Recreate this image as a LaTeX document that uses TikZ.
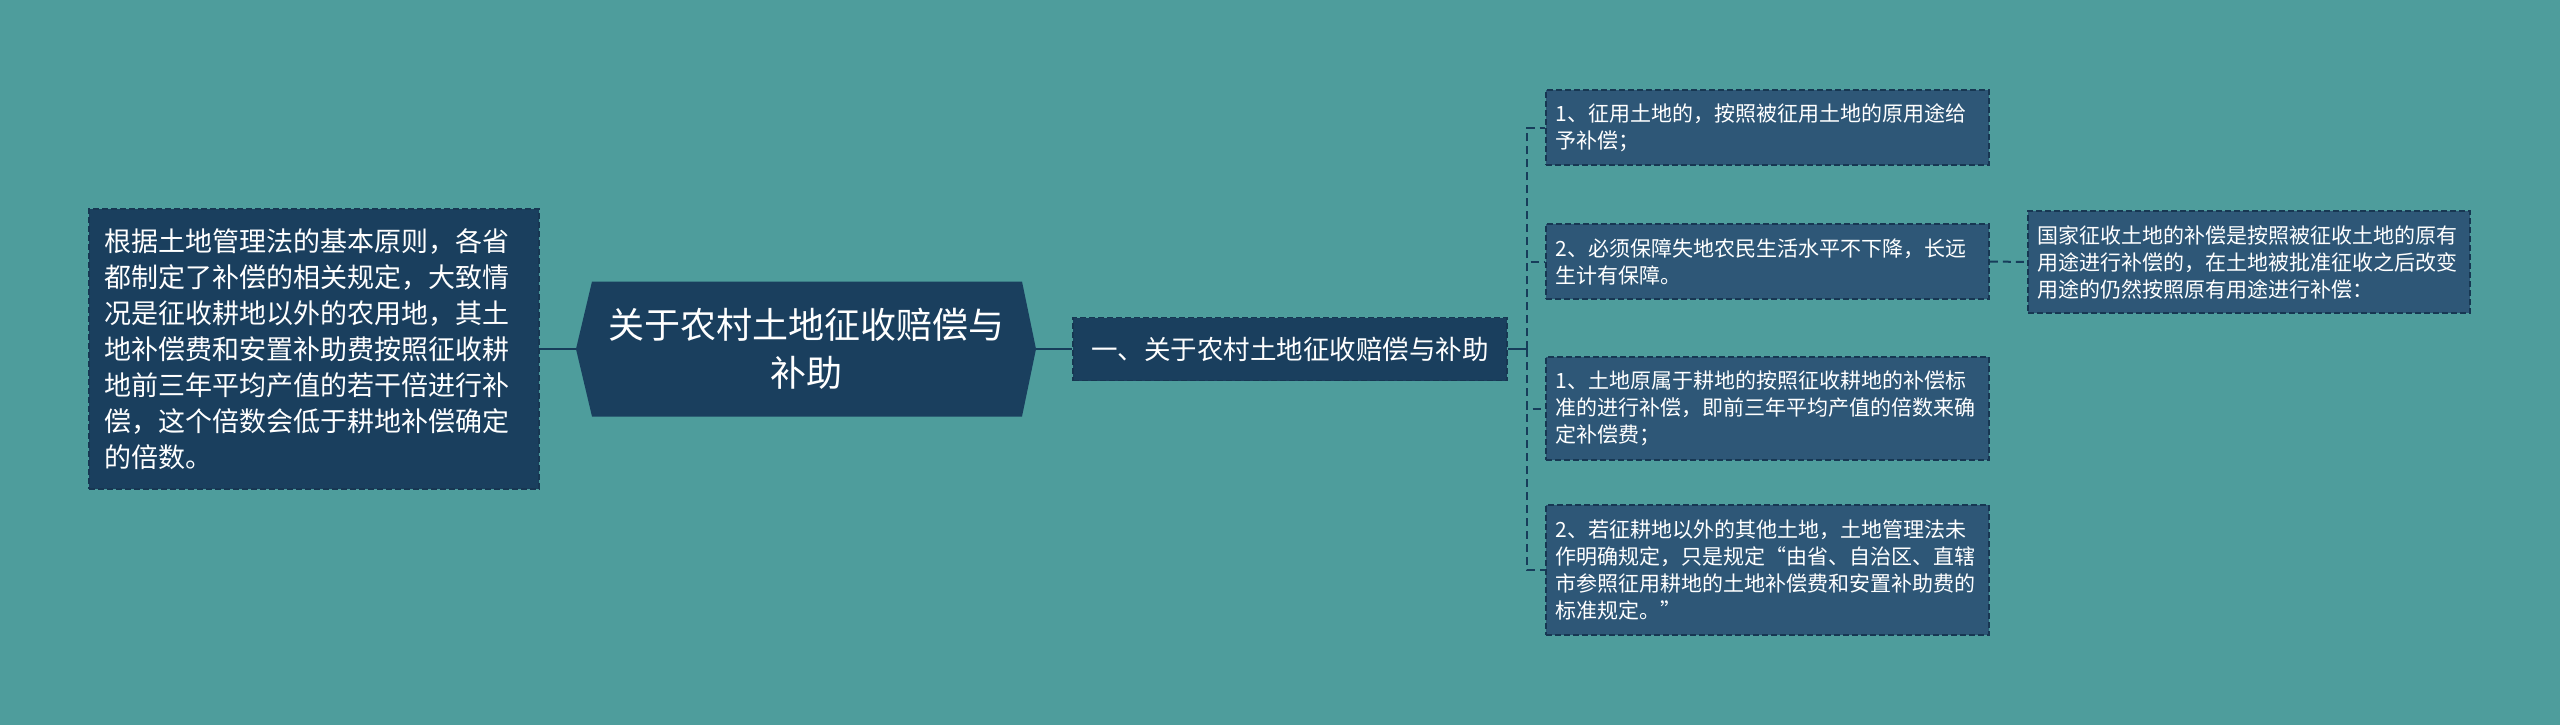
\documentclass[tikz,border=0pt]{standalone}
\usepackage{fontspec}
\setmainfont{Noto Sans CJK SC}
\definecolor{bgcol}{HTML}{4E9D9C}
\definecolor{darkfill}{HTML}{1A3F5E}
\definecolor{boxfill}{HTML}{2E5777}
\definecolor{bordercol}{HTML}{173752}
\definecolor{linecol}{HTML}{173D5A}
\begin{document}
\begin{tikzpicture}[x=1pt,y=-1pt,
  box/.style={draw=bordercol, line width=1.5pt, dash pattern=on 6pt off 3pt,
    text=white, align=left, inner sep=0pt},
  leftbox/.style={box, fill=darkfill, font=\fontsize{27}{36}\selectfont,
    text width=420pt, minimum width=450pt, minimum height=280pt},
  subbox/.style={box, fill=darkfill, font=\fontsize{26.5}{34}\selectfont,
    text width=405pt, align=center, minimum width=434pt, minimum height=63pt},
  leafbox/.style={box, fill=boxfill, font=\fontsize{21}{27}\selectfont,
    text width=424pt, minimum width=443pt},
  conn/.style={draw=linecol, line width=2pt},
  dconn/.style={conn, dash pattern=on 8pt off 5pt}
]
\fill[bgcol] (0,0) rectangle (2560,725);
\useasboundingbox (0,0) rectangle (2560,725);

\node[leftbox] (left) at (314,349) {根据土地管理法的基本原则，各省\\都制定了补偿的相关规定，大致情\\况是征收耕地以外的农用地，其土\\地补偿费和安置补助费按照征收耕\\地前三年平均产值的若干倍进行补\\偿，这个倍数会低于耕地补偿确定\\的倍数。};

\node[minimum width=460pt, minimum height=135pt, inner sep=0pt, text=white,
  align=center, font=\fontsize{36}{48}\selectfont,
  path picture={\fill[darkfill] (path picture bounding box.west)
    -- ([xshift=16pt]path picture bounding box.north west)
    -- ([xshift=-14pt]path picture bounding box.north east)
    -- (path picture bounding box.east)
    -- ([xshift=-14pt]path picture bounding box.south east)
    -- ([xshift=16pt]path picture bounding box.south west) -- cycle;}]
  (hub) at (806,349) {关于农村土地征收赔偿与\\补助};

\node[subbox] (sub) at (1290,349) {一、关于农村土地征收赔偿与补助};

\node[leafbox, minimum height=75pt] (b1) at (1767.5,127.5) {1、征用土地的，按照被征用土地的原用途给\\予补偿；};
\node[leafbox, minimum height=75pt] (b2) at (1767.5,261.5) {2、必须保障失地农民生活水平不下降，长远\\生计有保障。};
\node[leafbox, minimum height=103pt] (b3) at (1767.5,408.5) {1、土地原属于耕地的按照征收耕地的补偿标\\准的进行补偿，即前三年平均产值的倍数来确\\定补偿费；};
\node[leafbox, minimum height=130pt] (b4) at (1767.5,570) {2、若征耕地以外的其他土地，土地管理法未\\作明确规定，只是规定“由省、自治区、直辖\\市参照征用耕地的土地补偿费和安置补助费的\\标准规定。”};
\node[leafbox, minimum width=442pt, minimum height=102pt] (b5) at (2249,262) {国家征收土地的补偿是按照被征收土地的原有\\用途进行补偿的，在土地被批准征收之后改变\\用途的仍然按照原有用途进行补偿：};

\coordinate (bus) at (1527,349);

\draw[conn] (left.east) -- (hub.west);
\draw[conn] (hub.east) -- (sub.west);
\draw[conn] (sub.east) -- (bus);
\draw[dconn] (bus) |- (b1.west);
\draw[dconn] (bus) |- (b2.west);
\draw[dconn] (bus) |- (b3.west);
\draw[dconn] (bus) |- (b4.west);
\draw[dconn] (b2.east) -- (b5.west);
\end{tikzpicture}
\end{document}
